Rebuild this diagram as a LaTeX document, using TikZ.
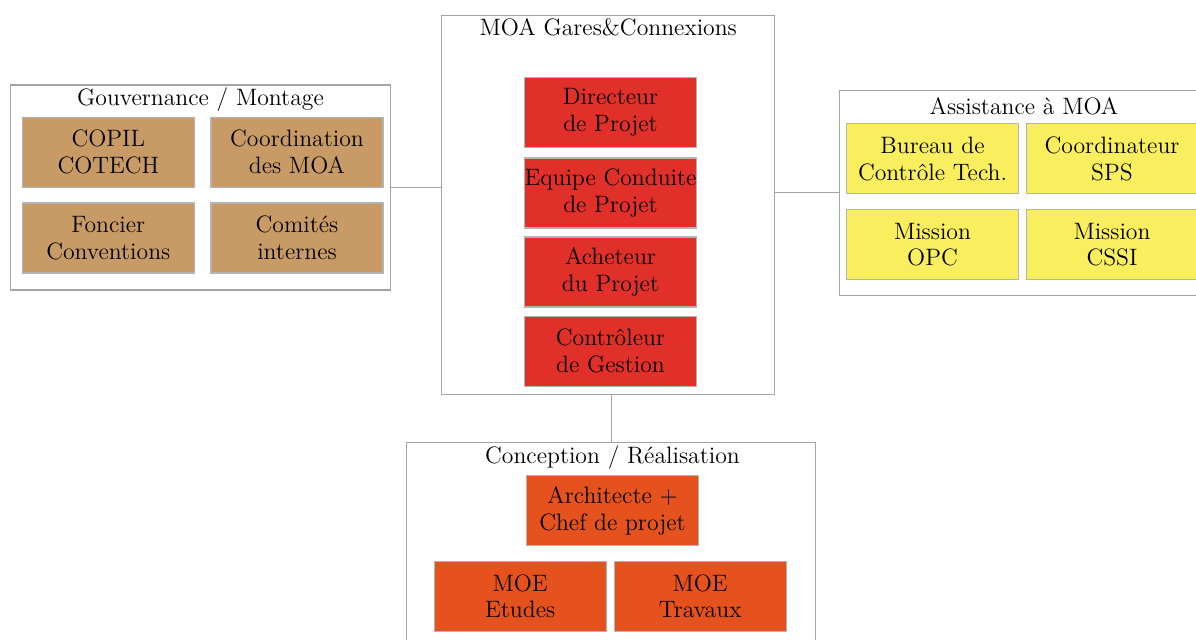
\documentclass[tikz,border=0pt]{standalone}
\usepackage{tikz}

\definecolor{tanbox}{HTML}{C89B66}
\definecolor{redbox}{HTML}{E1302A}
\definecolor{yellowbox}{HTML}{F8EE5E}
\definecolor{orangebox}{HTML}{E6521E}
\definecolor{linegray}{HTML}{A4A4A4}
\definecolor{edgegray}{HTML}{B4B4B4}

\tikzset{
    group/.style={draw=linegray, line width=0.6pt, fill=white, inner sep=0pt},
    unit/.style={draw=edgegray, line width=0.6pt, minimum width=3.44cm, minimum height=1.4cm,
                 inner sep=0pt, align=center, font=\fontsize{13.5}{15.3}\selectfont},
    grouptitle/.style={inner sep=0pt, font=\fontsize{13.5}{15.3}\selectfont},
    link/.style={draw=linegray, line width=0.6pt}
}

\begin{document}
\begin{tikzpicture}[x=0.02cm, y=-0.02cm]
    \clip (0,0) rectangle (1196,639);
    \useasboundingbox (0,0) rectangle (1196,639);

    % Draw the four group frames
    \node [group, minimum width=7.62cm, minimum height=4.1cm] (gov) at (200.5,187.5) {};
    \node [group, minimum width=6.66cm, minimum height=7.58cm] (moa) at (608.3,205.3) {};
    \node [group, minimum width=7.33cm, minimum height=4.09cm] (assist) at (1022.6,192.9) {};
    \node [group, minimum width=8.18cm, minimum height=4.34cm] (real) at (611.2,551.4) {};

    % Titles of the frames
    \node [grouptitle] (govtitle) at (200.5,100) {Gouvernance / Montage};
    \node [grouptitle] (moatitle) at (608.3,27) {MOA Gares\&Connexions};
    \node [grouptitle] (assisttitle) at (1024,106) {Assistance à MOA};
    \node [grouptitle] (realtitle) at (612.5,458) {Conception / Réalisation};

    % Gouvernance / Montage
    \node [unit, fill=tanbox] (copil) at (108.3,152.3) {COPIL\\COTECH};
    \node [unit, fill=tanbox] (coord) at (297,152.3) {Coordination\\des MOA};
    \node [unit, fill=tanbox] (foncier) at (108.3,238) {Foncier\\Conventions};
    \node [unit, fill=tanbox] (comites) at (297,238) {Comités\\internes};

    % MOA Gares&Connexions
    \node [unit, fill=redbox] (directeur) at (610.5,112.5) {Directeur\\de Projet};
    \node [unit, fill=redbox] (equipe) at (610.5,193) {Equipe Conduite\\de Projet};
    \node [unit, fill=redbox] (acheteur) at (610.5,272) {Acheteur\\du Projet};
    \node [unit, fill=redbox] (controleur) at (610.5,351.3) {Contrôleur\\de Gestion};

    % Assistance a MOA
    \node [unit, fill=yellowbox] (bureau) at (932.5,158.7) {Bureau de\\Contrôle Tech.};
    \node [unit, fill=yellowbox] (sps) at (1112,158.7) {Coordinateur\\SPS};
    \node [unit, fill=yellowbox] (opc) at (932.5,244.7) {Mission\\OPC};
    \node [unit, fill=yellowbox] (cssi) at (1112,244.7) {Mission\\CSSI};

    % Conception / Realisation
    \node [unit, fill=orangebox] (archi) at (612.5,510.7) {Architecte +\\Chef de projet};
    \node [unit, fill=orangebox] (etudes) at (520.2,596.3) {MOE\\Etudes};
    \node [unit, fill=orangebox] (travaux) at (700.2,596.3) {MOE\\Travaux};

    % Links between the frames
    \draw [link] (gov.east) -- (gov.east -| moa.west);
    \draw [link] (assist.west) -- (assist.west -| moa.east);
    \draw [link] (real.north) -- (real.north |- moa.south);

\end{tikzpicture}
\end{document}
